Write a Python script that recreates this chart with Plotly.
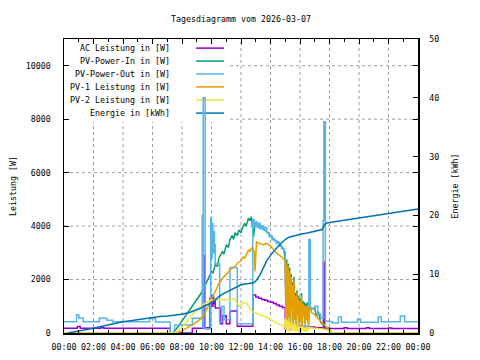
import plotly.graph_objects as go

# ---------------- data (hours of day, values) ----------------
NOISE_T = [15.00, 15.05, 15.10, 15.15, 15.20, 15.25, 15.30, 15.35, 15.40, 15.45, 15.50,
           15.55, 15.60, 15.65, 15.70, 15.75, 15.80, 15.85, 15.90, 15.95, 16.00,
           16.05, 16.10, 16.15, 16.20, 16.25, 16.30, 16.35, 16.40, 16.45, 16.50,
           16.55, 16.60]

ac_t = [0, 0.9, 1.1, 2.5, 2.7, 7.2, 8.7, 9.45, 9.55, 9.9, 9.95, 10.0, 10.05, 10.1, 10.15,
        10.2, 10.25, 10.6, 10.75, 11.0, 11.25, 11.75, 12.8, 13.0, 13.2, 13.4, 13.6, 13.8,
        14.0, 14.2, 14.4, 14.6, 14.8, 15.0, 15.5, 15.9, 16.1, 16.6, 17.0, 17.59, 17.67,
        18.0, 19.0, 19.2, 20.5, 20.7, 22.0, 22.2, 24]
ac_v = [180, 240, 180, 210, 180, 0, 180, 2900, 200, 1300, 1050, 1400, 1000, 1350, 1100,
        1250, 940, 350, 650, 350, 820, 250, 1420, 1350, 1300, 1250, 1230, 1180,
        1150, 1100, 1050, 1000, 950, 150, 220, 250, 180, 220, 200, 2650, 190,
        170, 200, 170, 200, 170, 190, 170, 170]

pin_t = [0, 7.4, 7.75, 8.0, 8.25, 8.5, 8.75, 9.0, 9.25, 9.5, 9.75, 10.0, 10.1, 10.25, 10.4,
         10.5, 10.75, 10.85, 11.0, 11.15, 11.25, 11.4, 11.5, 11.6, 11.75, 11.85, 12.0, 12.1,
         12.25, 12.35, 12.5, 12.6, 12.7, 12.85, 12.95, 13.1, 13.25, 13.4, 13.5, 13.75, 14.0,
         14.25, 14.5, 14.75, 14.9] + NOISE_T + [16.65, 16.8, 17.0, 17.1, 17.25, 17.4, 17.5,
                                                17.75, 18.0, 18.2, 24]
pin_v = [0, 0, 250, 450, 650, 850, 1050, 1250, 1450, 1700, 2000, 2300, 2250, 2550, 2500,
         2800, 3050, 2950, 3300, 3200, 3500, 3650, 3500, 3750, 3650, 3850, 3750, 3950,
         4100, 4000, 4300, 4200, 4350, 3600, 4100, 4050, 3950, 4000, 3900, 3800, 3650,
         3500, 3400, 3250, 3100,
         2800, 400, 2750, 200, 2600, 700, 2450, 300, 2200, 1000, 1900, 250, 2100, 600,
         1500, 200, 1600, 800, 1400, 300, 1300, 500, 1500, 250, 1200, 700, 1150, 350,
         1100, 600, 1150, 400, 1000,
         1000, 900, 950, 600, 800, 400, 350, 250, 120, 0, 0]

pout_t = [0, 0.85, 1.0, 1.3, 2.4, 2.9, 3.3, 5.8, 6.2, 7.2, 7.5, 8.7, 9.37, 9.40, 9.44, 9.57,
          9.95, 10.0, 10.05, 10.1, 10.15, 10.2, 10.25, 10.55, 10.7, 10.85, 11.25, 11.75,
          12.8, 12.9, 13.0, 13.1, 13.2, 13.3, 13.4, 13.5, 13.6, 13.75, 13.9, 14.0, 14.1,
          14.25, 14.4, 14.5, 14.6, 14.75, 14.9, 15.0, 15.05, 16.6, 16.7, 17.0, 17.2, 17.4,
          17.57, 17.62, 17.72, 18.0, 18.2, 18.6, 18.8, 19.9, 20.1, 21.3, 21.5, 22.8, 23.1, 24]
pout_v = [420, 680, 560, 420, 560, 480, 420, 540, 410, 0, 300, 550, 4400, 200, 8800, 150,
          4300, 2800, 4100, 3000, 3800, 3300, 2600, 400, 1000, 500, 2450, 350,
          4250, 4050, 4150, 3950, 4100, 3900, 4000, 3850, 3950, 3750, 3600, 3650, 3500,
          3450, 3350, 3400, 3250, 3150, 3050, 1800, 250, 3500, 900, 1000, 700, 550,
          4200, 7900, 450, 420, 370, 600, 400, 520, 400, 600, 420, 640, 420, 400]

pv1_t = [0, 7.6, 8.0, 8.25, 8.5, 8.75, 9.0, 9.25, 9.5, 9.75, 10.0, 10.25, 10.5, 10.75, 11.0,
         11.25, 11.5, 11.75, 12.0, 12.15, 12.25, 12.4, 12.5, 12.6, 12.75, 12.9, 12.95, 13.05,
         13.25, 13.5, 13.75, 14.0, 14.25, 14.5, 14.75, 14.9] + NOISE_T + [
         16.65, 16.8, 17.0, 17.2, 17.4, 17.6, 17.8, 18.0, 18.2, 24]
pv1_v = [0, 0, 80, 150, 230, 320, 420, 520, 680, 950, 1250, 1550, 1850, 2050, 2200,
         2350, 2450, 2600, 2700, 2850, 2800, 3000, 3100, 3050, 3200, 3050, 2300, 3400,
         3350, 3300, 3350, 3250, 3100, 2950, 2850, 2750,
         2700, 300, 2650, 100, 2500, 600, 2300, 200, 2100, 900, 1800, 150, 2000, 500,
         1400, 100, 1500, 700, 1300, 200, 1200, 400, 1400, 150, 1100, 600, 1050, 250,
         1000, 500, 1050, 300, 900,
         1000, 750, 700, 550, 450, 350, 250, 120, 0, 0]

pv2_t = [0, 7.5, 8.0, 8.25, 8.5, 8.75, 9.0, 9.25, 9.5, 9.75, 10.0, 10.5, 11.0, 11.25, 11.5,
         11.75, 11.9, 12.0, 12.2, 12.4, 12.55, 12.75, 13.0, 13.25, 13.5, 13.75, 14.0, 14.25,
         14.5, 14.75, 14.95] + NOISE_T + [16.65, 17.0, 17.5, 18.0, 18.3, 24]
pv2_v = [0, 0, 200, 380, 560, 720, 870, 990, 1080, 1180, 1230, 1250, 1260, 1240, 1300,
         1100, 1000, 1050, 1150, 1100, 950, 800, 750, 700, 650, 580, 500, 420,
         350, 300, 250,
         550, 50, 500, 100, 450, 30, 400, 150, 380, 50, 350, 100, 300, 40, 320, 80,
         250, 30, 280, 100, 220, 50, 250, 60, 230, 80, 200, 40, 220, 60, 200, 50, 200,
         200, 180, 150, 80, 0, 0]

en_t = [0.25, 0.5, 1.0, 1.5, 2.0, 2.5, 3.0, 3.5, 4.0, 4.5, 5.0, 5.5, 6.0, 6.5, 7.0, 7.5,
        8.0, 8.5, 9.0, 9.25, 9.5, 9.75, 10.0, 10.25, 10.5, 10.75, 11.0, 11.25, 11.5, 11.75,
        12.0, 12.5, 12.8, 13.0, 13.25, 13.5, 13.75, 14.0, 14.25, 14.5, 14.75, 15.0, 15.25,
        15.5, 15.75, 16.0, 16.5, 17.0, 17.5, 17.65, 17.8, 18.0, 18.5, 19.0, 19.5, 20.0,
        20.5, 21.0, 21.5, 22.0, 22.5, 23.0, 23.5, 24.0]
en_v = [0.0, 0.1, 0.3, 0.5, 0.8, 1.1, 1.4, 1.6, 1.9, 2.1, 2.3, 2.5, 2.7, 2.8, 2.9, 3.0,
        3.2, 3.5, 3.9, 4.2, 4.6, 4.8, 5.1, 5.6, 6.2, 6.6, 6.9, 7.3, 7.6, 7.9,
        8.2, 8.4, 8.5, 8.8, 9.7, 11.0, 12.3, 13.2, 14.0, 14.7, 15.3, 15.9, 16.3,
        16.5, 16.7, 16.8, 17.0, 17.3, 17.6, 18.4, 18.7, 18.8, 19.0, 19.2, 19.4, 19.6,
        19.8, 20.0, 20.2, 20.4, 20.6, 20.8, 21.0, 21.1]

x_tickvals = [0, 2, 4, 6, 8, 10, 12, 14, 16, 18, 20, 22, 24]
x_ticktext = ["00:00", "02:00", "04:00", "06:00", "08:00", "10:00", "12:00", "14:00",
              "16:00", "18:00", "20:00", "22:00", "00:00"]
y_tickvals = [0, 2000, 4000, 6000, 8000, 10000]
y_ticktext = ["0", "2000", "4000", "6000", "8000", "10000"]
y2_tickvals = [0, 10, 20, 30, 40, 50]
y2_ticktext = ["0", "10", "20", "30", "40", "50"]

names = ["AC Leistung in [W]", "PV-Power-In in [W]", "PV-Power-Out in [W]",
         "PV-1 Leistung in [W]", "PV-2 Leistung in [W]", "Energie in [kWh]"]
colors = ["#9400D3", "#009E73", "#56B4E9", "#E69F00", "#F0E442", "#0072B2"]
shapes_line = ["hv", "linear", "hv", "linear", "linear", "linear"]

FONT = "DejaVu Sans Mono"
FS = 8.3
X_MAX = 24
Y_MAX = 11000
GRID = dict(color="#a0a0a0", width=1, dash="3px,3px")

fig = go.Figure()
series = [(ac_t, ac_v), (pin_t, pin_v), (pout_t, pout_v), (pv1_t, pv1_v), (pv2_t, pv2_v)]
for (t, v), n, c, s in zip(series, names[:5], colors[:5], shapes_line[:5]):
    fig.add_trace(go.Scatter(x=t, y=v, mode="lines", name=n,
                             line=dict(color=c, width=1.5, shape=s),
                             showlegend=False, yaxis="y"))
fig.add_trace(go.Scatter(x=en_t, y=en_v, mode="lines", name=names[5],
                         line=dict(color=colors[5], width=1.5, shape=shapes_line[5]),
                         showlegend=False, yaxis="y2"))

# key box region (paper fractions) -> in data units, grid lines stop at its edge
KEY_X1 = 0.469
KEY_Y0 = 0.718
key_x_data = KEY_X1 * X_MAX
key_y_data = KEY_Y0 * Y_MAX

shapes = []
for xv in x_tickvals[1:-1]:
    top = key_y_data if xv < key_x_data else Y_MAX
    shapes.append(dict(type="line", xref="x", yref="y", x0=xv, x1=xv, y0=0, y1=top,
                       line=GRID, layer="below"))
for yv in y_tickvals[1:]:
    left = key_x_data if yv > key_y_data else 0
    shapes.append(dict(type="line", xref="x", yref="y", x0=left, x1=X_MAX, y0=yv, y1=yv,
                       line=GRID, layer="below"))

annotations = []
row_y = [0.969, 0.925, 0.881, 0.837, 0.793, 0.748]
for n, c, yy in zip(names, colors, row_y):
    annotations.append(dict(x=0.305, y=yy, xref="paper", yref="paper", text=n, showarrow=False,
                            xanchor="right", yanchor="middle",
                            font=dict(family=FONT, size=FS, color="black")))
    shapes.append(dict(type="line", xref="paper", yref="paper", x0=0.373, x1=0.452, y0=yy, y1=yy,
                       line=dict(color=c, width=1.5), layer="below"))

axis_common = dict(showline=True, linecolor="black", linewidth=1.5, ticks="inside",
                   tickcolor="black", tickfont=dict(family=FONT, size=FS, color="black"),
                   showgrid=False, zeroline=False, automargin=False)

# page body has an 8px margin, so the figure is sized/margined to compensate
fig.update_layout(
    width=472, height=352,
    margin=dict(l=56, r=62, t=31, b=27, autoexpand=False),
    paper_bgcolor="white", plot_bgcolor="white",
    title=dict(text="Tagesdiagramm vom 2026-03-07", x=0.5, xref="paper", y=1 - 11 / 352,
               yanchor="middle", xanchor="center",
               font=dict(family=FONT, size=FS, color="black")),
    xaxis=dict(range=[0, X_MAX], tickvals=x_tickvals, ticktext=x_ticktext, mirror="ticks",
               ticklen=5,
               minor=dict(dtick=1, ticks="inside", ticklen=3, tickcolor="black", showgrid=False),
               ticklabelstandoff=6, **axis_common),
    yaxis=dict(range=[0, Y_MAX], tickvals=y_tickvals, ticktext=y_ticktext, mirror="ticks",
               ticklen=5, ticklabelstandoff=10,
               title=dict(text="Leistung [W]", font=dict(family=FONT, size=FS, color="black"),
                          standoff=16),
               **axis_common),
    yaxis2=dict(range=[0, 50], tickvals=y2_tickvals, ticktext=y2_ticktext, overlaying="y",
                side="right", ticklen=5, ticklabelstandoff=8,
                title=dict(text="Energie [kWh]", font=dict(family=FONT, size=FS, color="black"),
                           standoff=14),
                **axis_common),
    shapes=shapes, annotations=annotations,
    hovermode=False, showlegend=False,
)

fig.write_html("out.html", config={"displayModeBar": False, "staticPlot": True})
